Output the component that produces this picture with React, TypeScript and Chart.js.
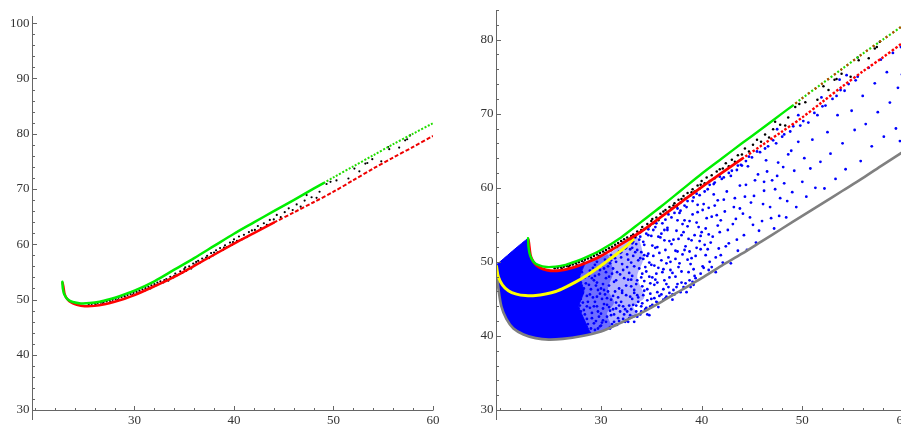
import React, { useEffect, useRef } from "react";
import { Chart, registerables } from "chart.js";

Chart.register(...registerables);

// ---------- data ----------
const greenX = [22.75, 22.8, 22.95, 23.3, 23.8, 24.6, 25.5, 26.5, 27.5, 28.5, 30, 32, 34, 36, 38, 40, 42, 44, 46, 48, 49, 50, 52, 54, 56, 58, 60];
const greenY = [53.2, 52.0, 50.9, 50.0, 49.55, 49.3, 49.35, 49.6, 50.05, 50.6, 51.6, 53.3, 55.4, 57.5, 59.7, 61.9, 63.95, 66.0, 68.0, 70.05, 71.05, 72.1, 74.1, 76.1, 78.1, 80.0, 81.9];

const redX = [22.78, 22.85, 22.98, 23.2, 23.6, 24.2, 25.0, 26.0, 27.0, 28.0, 29.0, 30.0, 32, 34, 36, 38, 40, 42, 44, 46, 48, 50, 52, 54, 56, 58, 60];
const redY = [53.0, 52.4, 51.0, 50.2, 49.5, 49.05, 48.8, 48.85, 49.15, 49.6, 50.15, 50.8, 52.4, 54.1, 56.1, 58.1, 60.1, 62.0, 63.9, 65.75, 67.6, 69.5, 71.6, 73.7, 75.7, 77.6, 79.6];

const yellowX = [19.62, 19.8, 20.2, 20.8, 21.6, 22.5, 23.5, 24.5, 25.5, 26.5, 27.5, 28.5, 29.5, 30.5, 31.5, 32.5, 33.2];
const yellowY = [49.4, 48.0, 46.9, 46.1, 45.65, 45.45, 45.45, 45.65, 46.0, 46.6, 47.3, 48.1, 49.0, 50.0, 51.0, 52.1, 53.0];

const grayX = [19.62, 19.8, 20.1, 20.6, 21.3, 22.3, 23.5, 24.8, 26.2, 28, 30, 32, 34, 36, 38, 40, 42, 44, 46, 48, 50, 52, 54, 56, 58, 60, 60.5];
const grayY = [48.6, 46.5, 44.0, 42.3, 41.0, 40.2, 39.7, 39.5, 39.6, 39.95, 40.6, 41.8, 43.1, 44.6, 46.2, 47.8, 49.5, 51.1, 52.8, 54.5, 56.2, 57.9, 59.6, 61.3, 63.1, 64.85, 65.3];

// solid (saturated) part of the blue cloud
const blobX = [19.62, 22.75, 22.85, 22.98, 23.2, 23.6, 24.2, 25.0, 26.0, 27.0, 28.0, 28.4, 27.9, 28.3, 27.8, 28.4, 28.9, 28.0, 26.2, 24.8, 23.5, 22.3, 21.3, 20.6, 20.1, 19.8, 19.62];
const blobY = [49.6, 53.15, 52.4, 51.0, 50.2, 49.5, 49.05, 48.8, 48.85, 49.15, 49.6, 49.8, 48.0, 46.0, 44.0, 42.0, 40.3, 39.95, 39.6, 39.5, 39.7, 40.2, 41.0, 42.3, 44.0, 46.5, 48.6];

// speckled parts of the blue cloud (two overlapping veils)
const hazeAX = [27.6, 29.0, 30.5, 32.0, 33.5, 34.2, 33.6, 34.3, 33.2, 33.6, 32.0, 30.0, 28.0];
const hazeAY = [49.4, 50.1, 50.9, 52.2, 53.5, 50.5, 48.0, 45.2, 44.0, 42.9, 41.6, 40.5, 39.9];
const hazeBX = [27.6, 28.6, 29.6, 30.6, 31.2, 30.7, 31.3, 30.6, 31.0, 29.5, 28.0];
const hazeBY = [49.4, 49.9, 50.5, 51.1, 48.6, 46.3, 44.5, 43.0, 41.2, 40.4, 39.9];

const blackPts = [
  [25.4,49.15],[25.7,49.2],[26.0,49.3],[26.3,49.35],[26.6,49.45],[26.9,49.55],[27.2,49.65],[27.5,49.8],[27.8,49.95],[28.1,50.1],[28.4,50.3],[28.7,50.45],[29.0,50.6],[29.3,50.8],[29.6,51.0],[29.9,51.2],[30.2,51.4],[30.5,51.6],[30.8,51.85],[31.1,52.05],[31.4,52.3],[31.7,52.55],[32.0,52.8],[32.3,53.05],
  [26.1,49.1],[26.8,49.3],[27.6,49.55],[28.3,49.9],[29.1,50.35],[29.8,50.8],[30.4,51.2],[31.0,51.55],[31.6,52.0],[32.2,52.6],
  [32.6,53.3],[32.9,53.1],[33.2,53.7],[33.4,53.4],[33.6,54.1],[33.9,54.0],[34.1,54.7],[34.3,54.4],[34.6,55.1],[34.8,54.8],[35.0,55.5],[35.2,55.2],[35.5,56.0],[35.7,55.6],[35.9,56.5],[36.1,56.3],[36.4,57.0],[36.6,56.7],[36.8,57.4],[37.0,57.2],[37.3,57.9],[37.5,57.5],[37.7,58.4],[37.9,58.0],[38.2,58.9],[38.4,58.6],[38.6,59.3],[38.9,59.0],[39.1,59.8],[39.3,59.5],[39.6,60.3],[39.8,59.9],[40.0,60.9],[40.3,60.6],
  [33.0,53.5],[34.0,54.3],[35.1,55.8],[36.2,56.8],[37.2,57.6],[38.0,58.5],[39.0,59.4],[39.9,60.4],
  [40.5,61.4],[40.8,60.9],[41.0,61.7],[41.3,61.3],[41.5,62.2],[41.8,62.5],[42.1,62.6],[42.4,63.3],[42.7,62.9],[43.0,63.8],[43.3,63.5],[43.6,64.4],[44.0,64.5],[44.3,65.3],[44.7,64.9],[45.1,65.8],[45.5,66.5],[45.9,66.2],[46.3,67.2],[46.7,66.8],[47.1,67.9],[47.3,68.9],[47.8,68.5],[48.3,68.4],[48.6,69.5],[49.3,70.9],
  [49.7,71.3],[50.3,71.55],[51.5,71.9],[52.1,73.7],[52.6,73.2],[53.2,74.6],[53.4,74.7],[53.9,75.4],[54.8,75.0],[55.5,77.6],[55.6,77.2],[56.6,77.5],[57.2,78.8],[57.4,79.0],[57.7,79.7],
];

const bluePts = [
  [28.1,41.2],[28.3,43.5],[28.2,45.8],[28.4,47.9],[28.6,42.3],[28.7,44.6],[28.8,46.9],[28.9,48.8],[29.0,41.0],[29.1,43.1],[29.2,45.2],[29.3,47.5],[29.4,49.6],[29.5,42.0],[29.6,44.0],[29.7,46.2],[29.8,48.3],[29.9,41.3],[30.0,43.0],[30.1,45.0],[30.2,47.0],[30.3,49.1],[30.4,50.3],[30.5,41.9],[30.6,44.2],[30.7,46.0],[30.8,48.0],[30.9,49.8],[31.0,42.8],[31.1,41.6],[31.2,45.4],[31.3,47.3],[31.4,50.5],[31.5,43.7],[31.6,48.6],[31.7,42.4],[31.8,46.4],[31.9,51.2],[32.0,44.6],[32.1,49.7],[32.2,42.3],[32.3,47.8],[32.4,51.8],[32.5,45.5],[32.6,43.3],[32.7,50.3],[32.8,48.5],[32.9,42.8],[33.0,46.7],[33.1,52.5],[33.2,44.2],[33.3,49.4],[33.4,51.3],[33.5,43.3],[33.6,47.5],[33.7,45.2],[33.8,53.0],[33.9,50.5],[34.0,44.0],[34.1,48.4],
  [26.8,41.5],[27.0,44.0],[27.2,46.3],[27.4,48.3],[27.6,40.6],[27.8,42.8],[28.0,45.0],[28.0,47.2],[27.3,39.9],[28.4,40.3],[28.9,40.4],[29.4,40.8],[29.6,45.3],[30.0,46.4],[30.2,42.1],[30.5,48.6],[30.9,43.4],[31.2,49.1],[31.5,41.5],[31.8,44.1],[32.1,46.1],[32.4,43.6],[32.7,41.9],[33.0,49.9],[33.3,45.8],[33.6,42.6],[34.0,51.3],[34.3,47.4],[34.6,44.8],[35.0,49.6],[29.1,47.8],[29.5,49.0],[30.1,49.5],[30.6,50.1],[31.0,50.9],[31.5,50.0],[32.0,51.3],[32.6,51.0],[33.1,51.9],[33.5,52.4],
  [27.3,42.6],[27.9,44.1],[27.5,47.7],[28.2,40.6],[28.6,45.4],[27.7,45.9],[28.9,43.8],[28.1,48.6],[29.3,41.7],[28.5,47.1],[29.7,43.3],[27.8,41.4],[29.0,46.3],[29.9,45.7],[28.4,42.9],[30.3,44.3],[29.2,49.2],[30.6,42.6],[27.6,43.6],[29.6,47.2],[30.8,46.8],[28.7,41.6],[31.0,44.9],[29.4,44.6],[30.1,41.8],[27.4,49.0],[30.5,47.8],[29.8,42.6],[31.3,42.9],[28.3,46.4],[30.9,41.2],[29.5,46.8],[31.1,48.4],[28.8,48.1],[30.4,45.6],[27.9,40.3],[31.4,46.0],[29.1,42.4],[30.7,49.4],[28.6,44.0],[31.2,43.6],[29.9,48.9],[30.2,43.7],[28.0,43.3],[31.5,47.5],[29.3,44.0],[30.0,41.4],[27.5,44.8],[30.6,45.1],[29.6,50.0],[31.3,41.9],[28.9,45.6],[30.8,43.9],[29.7,41.0],[28.2,44.5],[31.0,50.2],[29.4,48.1],[30.3,46.2],[27.8,46.9],[31.5,44.5],
  [31.7,45.2],[32.3,42.9],[31.9,48.3],[32.8,44.1],[32.0,50.6],[33.4,42.7],[32.5,46.8],[31.8,42.0],[33.1,48.1],[32.6,49.3],[33.7,44.6],[32.2,44.0],[34.2,45.5],[33.0,43.6],[32.9,51.7],[33.5,47.0],[34.4,43.6],[31.9,43.3],[33.8,49.1],[34.6,46.3],[32.4,41.9],[35.1,44.2],[33.2,50.8],[34.0,47.9],[35.3,46.9],[32.7,47.6],[34.8,49.9],[33.6,45.5],[35.5,48.4],[34.3,52.3],[35.0,43.9],[33.9,42.9],[35.8,45.4],[34.7,51.1],[36.0,50.2],[32.1,45.8],[35.6,52.0],[34.1,44.4],[36.3,47.5],[33.3,46.2],[35.2,50.8],[36.5,45.3],[34.9,45.7],[35.9,53.3],[33.6,51.6],[36.2,44.9],[35.4,47.6],[34.5,48.7],[36.4,51.6],[32.8,42.4],[35.7,49.2],[34.2,50.4],[36.1,48.6],[33.1,45.0],[35.0,53.5],[34.6,42.9],[36.6,54.3],[33.4,53.3],[35.3,45.1],[31.8,51.4],
  [36.8,47.9],[37.3,45.6],[37.0,52.4],[37.7,49.3],[36.9,50.0],[38.1,51.0],[37.5,54.2],[38.4,47.1],[37.2,46.2],[38.7,53.1],[37.9,45.9],[38.9,49.7],[38.3,55.6],[39.2,46.9],[37.6,51.4],[39.5,51.9],[38.6,50.3],[39.7,54.7],[38.0,53.6],[39.9,48.4],[39.1,56.4],[40.3,52.3],[38.8,47.5],[40.5,55.9],[39.4,50.8],[40.8,50.0],[39.6,57.7],[41.1,53.4],[40.0,54.0],[41.4,48.6],[40.7,57.3],[41.7,51.8],[40.2,49.2],[41.9,55.6],[41.2,59.1],[37.4,48.0],[38.5,45.9],[36.7,46.6],[39.0,52.9],[37.8,56.6],
  [30.9,41.0],[31.6,41.5],[32.5,42.1],[33.2,42.6],[34.0,43.3],[34.9,44.0],[35.6,44.5],[36.4,45.1],[37.1,45.6],[38.2,46.6],[39.1,47.3],
  [32.2,48.9],[32.9,45.3],[33.3,41.9],[33.7,50.2],[34.1,46.7],[34.4,49.3],[34.8,42.8],[35.1,47.9],[35.4,51.9],[35.7,43.9],[36.0,53.8],[36.2,46.3],[36.5,49.8],[36.8,52.8],[37.1,44.9],[37.4,50.4],[37.7,53.1],[38.0,48.7],[38.3,51.6],[38.6,54.8],[38.9,46.6],[39.2,49.0],[39.5,55.3],[39.8,52.8],[40.1,57.0],[40.4,50.9],[40.7,53.7],[41.0,49.3],[41.3,57.6],[41.6,54.9],[41.9,50.9],[42.2,58.4],[42.6,54.3],[42.9,49.8],[43.2,57.4],[43.5,53.0],[43.8,60.3],[44.1,56.5],[44.5,51.6],[44.9,58.0],[45.3,61.0],[45.7,54.2],[46.1,57.8],[46.5,62.2],[46.9,55.9],[47.3,59.8],[47.7,56.2],[48.1,62.8],[48.5,58.2],[48.9,65.0],
  [33.0,47.6],[33.5,44.1],[34.3,50.9],[34.9,47.1],[35.6,45.9],[36.3,54.3],[36.9,48.9],[37.6,47.0],[38.1,55.1],[38.8,51.4],[39.3,48.1],[39.9,53.5],[40.6,51.7],[41.5,56.3],[42.4,52.1],[43.4,55.8],[44.3,58.8],[45.1,55.0],[46.2,60.8],[47.5,61.6],
  [32.5,51.9],[33.2,52.7],[33.9,53.4],[34.7,54.4],[35.5,55.2],[36.7,56.4],[37.6,57.2],[38.6,58.2],[39.5,59.2],[40.8,60.4],[41.8,61.5],[42.7,62.0],[43.6,63.0],[44.4,63.6],
  [34.2,52.7],[34.3,46.1],[34.5,43.8],[34.6,50.8],[34.7,53.6],[34.8,48.0],[35.0,45.0],[35.1,52.2],[35.2,54.3],[35.3,49.5],[35.5,44.6],[35.6,47.2],[35.7,53.4],[35.8,51.2],[36.0,45.6],[36.1,55.2],[36.2,49.0],[36.3,52.9],[36.5,47.0],[36.6,54.6],[36.7,50.6],[36.8,45.8],[37.0,56.0],[37.1,48.5],[37.2,53.0],[37.4,51.5],[37.5,46.6],[37.6,55.6],[37.8,49.8],[37.9,56.9],[38.0,47.2],[38.2,54.0],[38.4,52.1],[38.5,57.4],[38.7,48.6],
  [38.8,55.5],[39.0,50.5],[39.1,58.2],[39.3,53.6],[39.4,47.8],[39.6,56.7],[39.8,59.0],[39.9,51.7],[40.1,49.4],[40.2,57.8],[40.4,54.5],[40.6,59.8],[40.7,48.9],[40.9,52.6],[41.0,56.1],[41.2,60.5],[41.4,50.6],[41.6,58.3],[41.8,54.0],[42.0,61.2],[42.1,49.9],[42.3,56.8],[42.5,59.5],[42.7,52.5],[42.9,61.6],[43.1,55.1],[43.3,58.6],[43.5,62.4],[43.6,51.5],[43.8,57.2],
  [44.0,63.0],[44.2,53.6],[44.4,60.4],[44.6,62.9],[44.8,56.0],[45.0,64.1],[45.2,58.9],[45.4,52.6],[45.6,61.8],[45.8,64.8],[46.0,55.5],[46.2,59.6],[46.4,63.7],[46.6,65.6],[46.8,57.4],[47.0,61.0],[47.2,54.5],[47.4,66.0],[47.6,63.4],[47.8,58.6],[48.0,66.9],[48.2,60.6],[48.4,56.0],[48.6,64.5],[48.8,67.6],[49.0,59.4],[49.2,62.3],[49.4,57.4],[49.6,66.2],[49.8,68.4],[50.0,60.8],[50.2,64.0],[50.4,58.8],[50.6,68.8],[50.8,62.6],
  [51.0,66.5],[51.3,60.0],[51.5,69.8],[51.8,63.5],[52.0,71.0],[52.2,59.9],[52.5,67.5],[52.8,64.6],[53.0,72.0],[53.3,61.2],[53.5,69.8],[53.8,73.2],[54.0,66.0],[54.3,62.5],[54.6,74.0],[54.9,70.4],[55.2,67.8],[55.5,75.0],[55.8,63.6],[56.0,72.4],[56.3,68.6],[56.6,76.2],[56.9,65.6],[57.2,74.1],[57.5,70.2],[57.8,77.3],[58.1,66.9],[58.4,75.6],[58.7,71.5],[59.0,78.2],[59.3,68.0],[59.5,73.5],[59.8,79.0],[59.9,75.3],[59.7,66.3],
  [34.5,53.8],[35.4,54.7],[36.4,55.7],[37.3,56.6],[38.3,57.6],[39.2,58.7],[40.3,59.5],[41.3,60.7],[42.2,61.4],[43.0,62.3],[43.9,63.1],[44.7,64.2],[45.5,64.9],[46.3,65.3],[47.1,66.4],[48.2,67.2],[49.1,68.3],[50.1,69.0],[51.2,70.1],[52.3,71.1],[53.4,72.4],[54.2,73.1],[55.3,74.5],
  [47.5,67.9],[49.6,69.8],[51.9,72.2],[53.7,74.6],[54.4,75.2],
];

// axis ticks
const xMajorTicks = [30, 40, 50, 60];
const xTickLabels = ["30", "40", "50", "60"];
const leftYMajorTicks = [30, 40, 50, 60, 70, 80, 90, 100];
const leftYTickLabels = ["30", "40", "50", "60", "70", "80", "90", "100"];
const rightYMajorTicks = [30, 40, 50, 60, 70, 80];
const rightYTickLabels = ["30", "40", "50", "60", "70", "80"];
const MINOR_STEP = 2;

// ---------- helpers ----------
const xy = (xs: number[], ys: number[]) => xs.map((x, i) => ({ x, y: ys[i] }));
const pairs = (a: number[][]) => a.map(([x, y]) => ({ x, y }));
const upTo = (d: { x: number; y: number }[], max: number) => d.filter((p) => p.x <= max);
const from = (d: { x: number; y: number }[], min: number) => d.filter((p) => p.x >= min);

function lineDs(data: any[], color: string, width: number, order: number, extra: any = {}) {
  return {
    data,
    showLine: true,
    borderColor: color,
    backgroundColor: color,
    borderWidth: width,
    pointRadius: 0,
    fill: false,
    tension: 0.3,
    borderCapStyle: "round",
    borderJoinStyle: "round",
    order,
    ...extra,
  };
}

function pointDs(data: any[], color: string, radius: number, order: number) {
  return {
    data,
    showLine: false,
    pointRadius: radius,
    pointBackgroundColor: color,
    pointBorderWidth: 0,
    pointBorderColor: color,
    backgroundColor: color,
    borderColor: color,
    order,
  };
}

function axesPlugin(yMajor: number[], yLabels: string[]) {
  return {
    id: "mmaAxes",
    afterDraw(chart: any) {
      const { ctx, scales } = chart;
      const xs = scales.x;
      const ys = scales.y;
      const ax = Math.round(xs.left) + 0.5;
      const ay = Math.round(ys.getPixelForValue(30)) + 0.5;
      ctx.save();
      ctx.strokeStyle = "#666666";
      ctx.lineWidth = 1;
      ctx.beginPath();
      ctx.moveTo(ax, ys.top);
      ctx.lineTo(ax, ys.bottom);
      ctx.moveTo(xs.left, ay);
      ctx.lineTo(xs.right, ay);
      for (let v = Math.ceil(xs.min / MINOR_STEP) * MINOR_STEP; v <= xs.max + 1e-9; v += MINOR_STEP) {
        const px = Math.round(xs.getPixelForValue(v)) + 0.5;
        if (px < ax + 1) continue;
        const len = xMajorTicks.includes(v) ? 4.5 : 2.5;
        ctx.moveTo(px, ay);
        ctx.lineTo(px, ay - len);
      }
      for (let v = Math.ceil(ys.min / MINOR_STEP) * MINOR_STEP; v <= ys.max + 1e-9; v += MINOR_STEP) {
        const py = Math.round(ys.getPixelForValue(v)) + 0.5;
        const len = yMajor.includes(v) ? 4.5 : 2.5;
        ctx.moveTo(ax, py);
        ctx.lineTo(ax + len, py);
      }
      ctx.stroke();

      ctx.fillStyle = "#333333";
      ctx.font = '13px "Liberation Serif", "DejaVu Serif", serif';
      ctx.textAlign = "right";
      ctx.textBaseline = "middle";
      yMajor.forEach((v, i) => {
        ctx.fillText(yLabels[i], ax - 3, ys.getPixelForValue(v));
      });
      ctx.textAlign = "center";
      ctx.textBaseline = "top";
      xMajorTicks.forEach((v, i) => {
        ctx.fillText(xTickLabels[i], xs.getPixelForValue(v), ay + 4);
      });
      ctx.restore();
    },
  };
}

function baseOptions(xmin: number, xmax: number, ymin: number, ymax: number, pad: any) {
  return {
    responsive: false,
    maintainAspectRatio: false,
    animation: false,
    devicePixelRatio: 1,
    events: [],
    layout: { padding: pad },
    plugins: { legend: { display: false }, tooltip: { enabled: false } },
    scales: {
      x: { type: "linear", min: xmin, max: xmax, display: false },
      y: { type: "linear", min: ymin, max: ymax, display: false },
    },
  };
}

function leftConfig(): any {
  const green = xy(greenX, greenY);
  const red = xy(redX, redY);
  return {
    type: "scatter",
    data: {
      datasets: [
        lineDs(upTo(green, 49.05), "#00ee00", 2.5, 1),
        lineDs(from(green, 49), "#22dd00", 2, 2, { borderDash: [2, 1.6], borderCapStyle: "butt" }),
        lineDs(upTo(red, 44.05), "#ff0000", 2.5, 3),
        lineDs(from(red, 44), "#ee0000", 2, 4, { borderDash: [4, 2], borderCapStyle: "butt" }),
        pointDs(pairs(blackPts), "#000000", 1.1, 5),
      ],
    },
    options: baseOptions(19.7, 60, 28.2, 101.3, { left: 32, right: 17, top: 16, bottom: 6 }),
    plugins: [axesPlugin(leftYMajorTicks, leftYTickLabels)],
  };
}

function rightConfig(): any {
  const green = xy(greenX, greenY);
  const red = xy(redX, redY);
  return {
    type: "scatter",
    data: {
      datasets: [
        lineDs(from(green, 49), "#c04000", 2.2, 1, { borderDash: [2, 6], borderDashOffset: 4, borderCapStyle: "butt" }),
        lineDs(from(green, 49), "#22dd00", 2.2, 2, { borderDash: [2, 2], borderCapStyle: "butt" }),
        lineDs(upTo(green, 49.05), "#00ee00", 2.4, 3),
        lineDs(upTo(red, 44.05), "#ff0000", 2.8, 4),
        lineDs(from(red, 44), "#ff0000", 2.4, 5, { borderDash: [2.5, 1.8], borderCapStyle: "butt" }),
        pointDs(pairs(blackPts), "#000000", 1.25, 6),
        lineDs(xy(yellowX, yellowY), "#ffff00", 3, 7),
        lineDs(xy(grayX, grayY), "#808080", 2.6, 8),
        pointDs(pairs(bluePts), "#0000ff", 1.4, 9),
        lineDs(xy(blobX, blobY), "#0000ff", 1, 10, { fill: "shape", tension: 0.2, backgroundColor: "#0000ff" }),
        lineDs(xy(hazeBX, hazeBY), "rgba(0,0,255,0)", 0, 11, { fill: "shape", tension: 0.3, backgroundColor: "rgba(0,0,255,0.38)" }),
        lineDs(xy(hazeAX, hazeAY), "rgba(0,0,255,0)", 0, 12, { fill: "shape", tension: 0.3, backgroundColor: "rgba(0,0,255,0.3)" }),
      ],
    },
    options: baseOptions(19.57, 60.5, 28.65, 84.0, { left: 46, right: 12, top: 10, bottom: 6 }),
    plugins: [axesPlugin(rightYMajorTicks, rightYTickLabels)],
  };
}

export default function App() {
  const leftRef = useRef<HTMLCanvasElement>(null);
  const rightRef = useRef<HTMLCanvasElement>(null);

  useEffect(() => {
    const c1 = new Chart(leftRef.current as HTMLCanvasElement, leftConfig());
    const c2 = new Chart(rightRef.current as HTMLCanvasElement, rightConfig());
    return () => {
      c1.destroy();
      c2.destroy();
    };
  }, []);

  return (
    <div style={{ position: "fixed", left: 0, top: 0, width: 901, height: 426, overflow: "hidden", background: "#ffffff" }}>
      <div style={{ position: "absolute", left: 0, top: 0, width: 450, height: 426 }}>
        <canvas ref={leftRef} width={450} height={426} style={{ display: "block" }} />
      </div>
      <div style={{ position: "absolute", left: 450, top: 0, width: 470, height: 426 }}>
        <canvas ref={rightRef} width={470} height={426} style={{ display: "block" }} />
      </div>
    </div>
  );
}
